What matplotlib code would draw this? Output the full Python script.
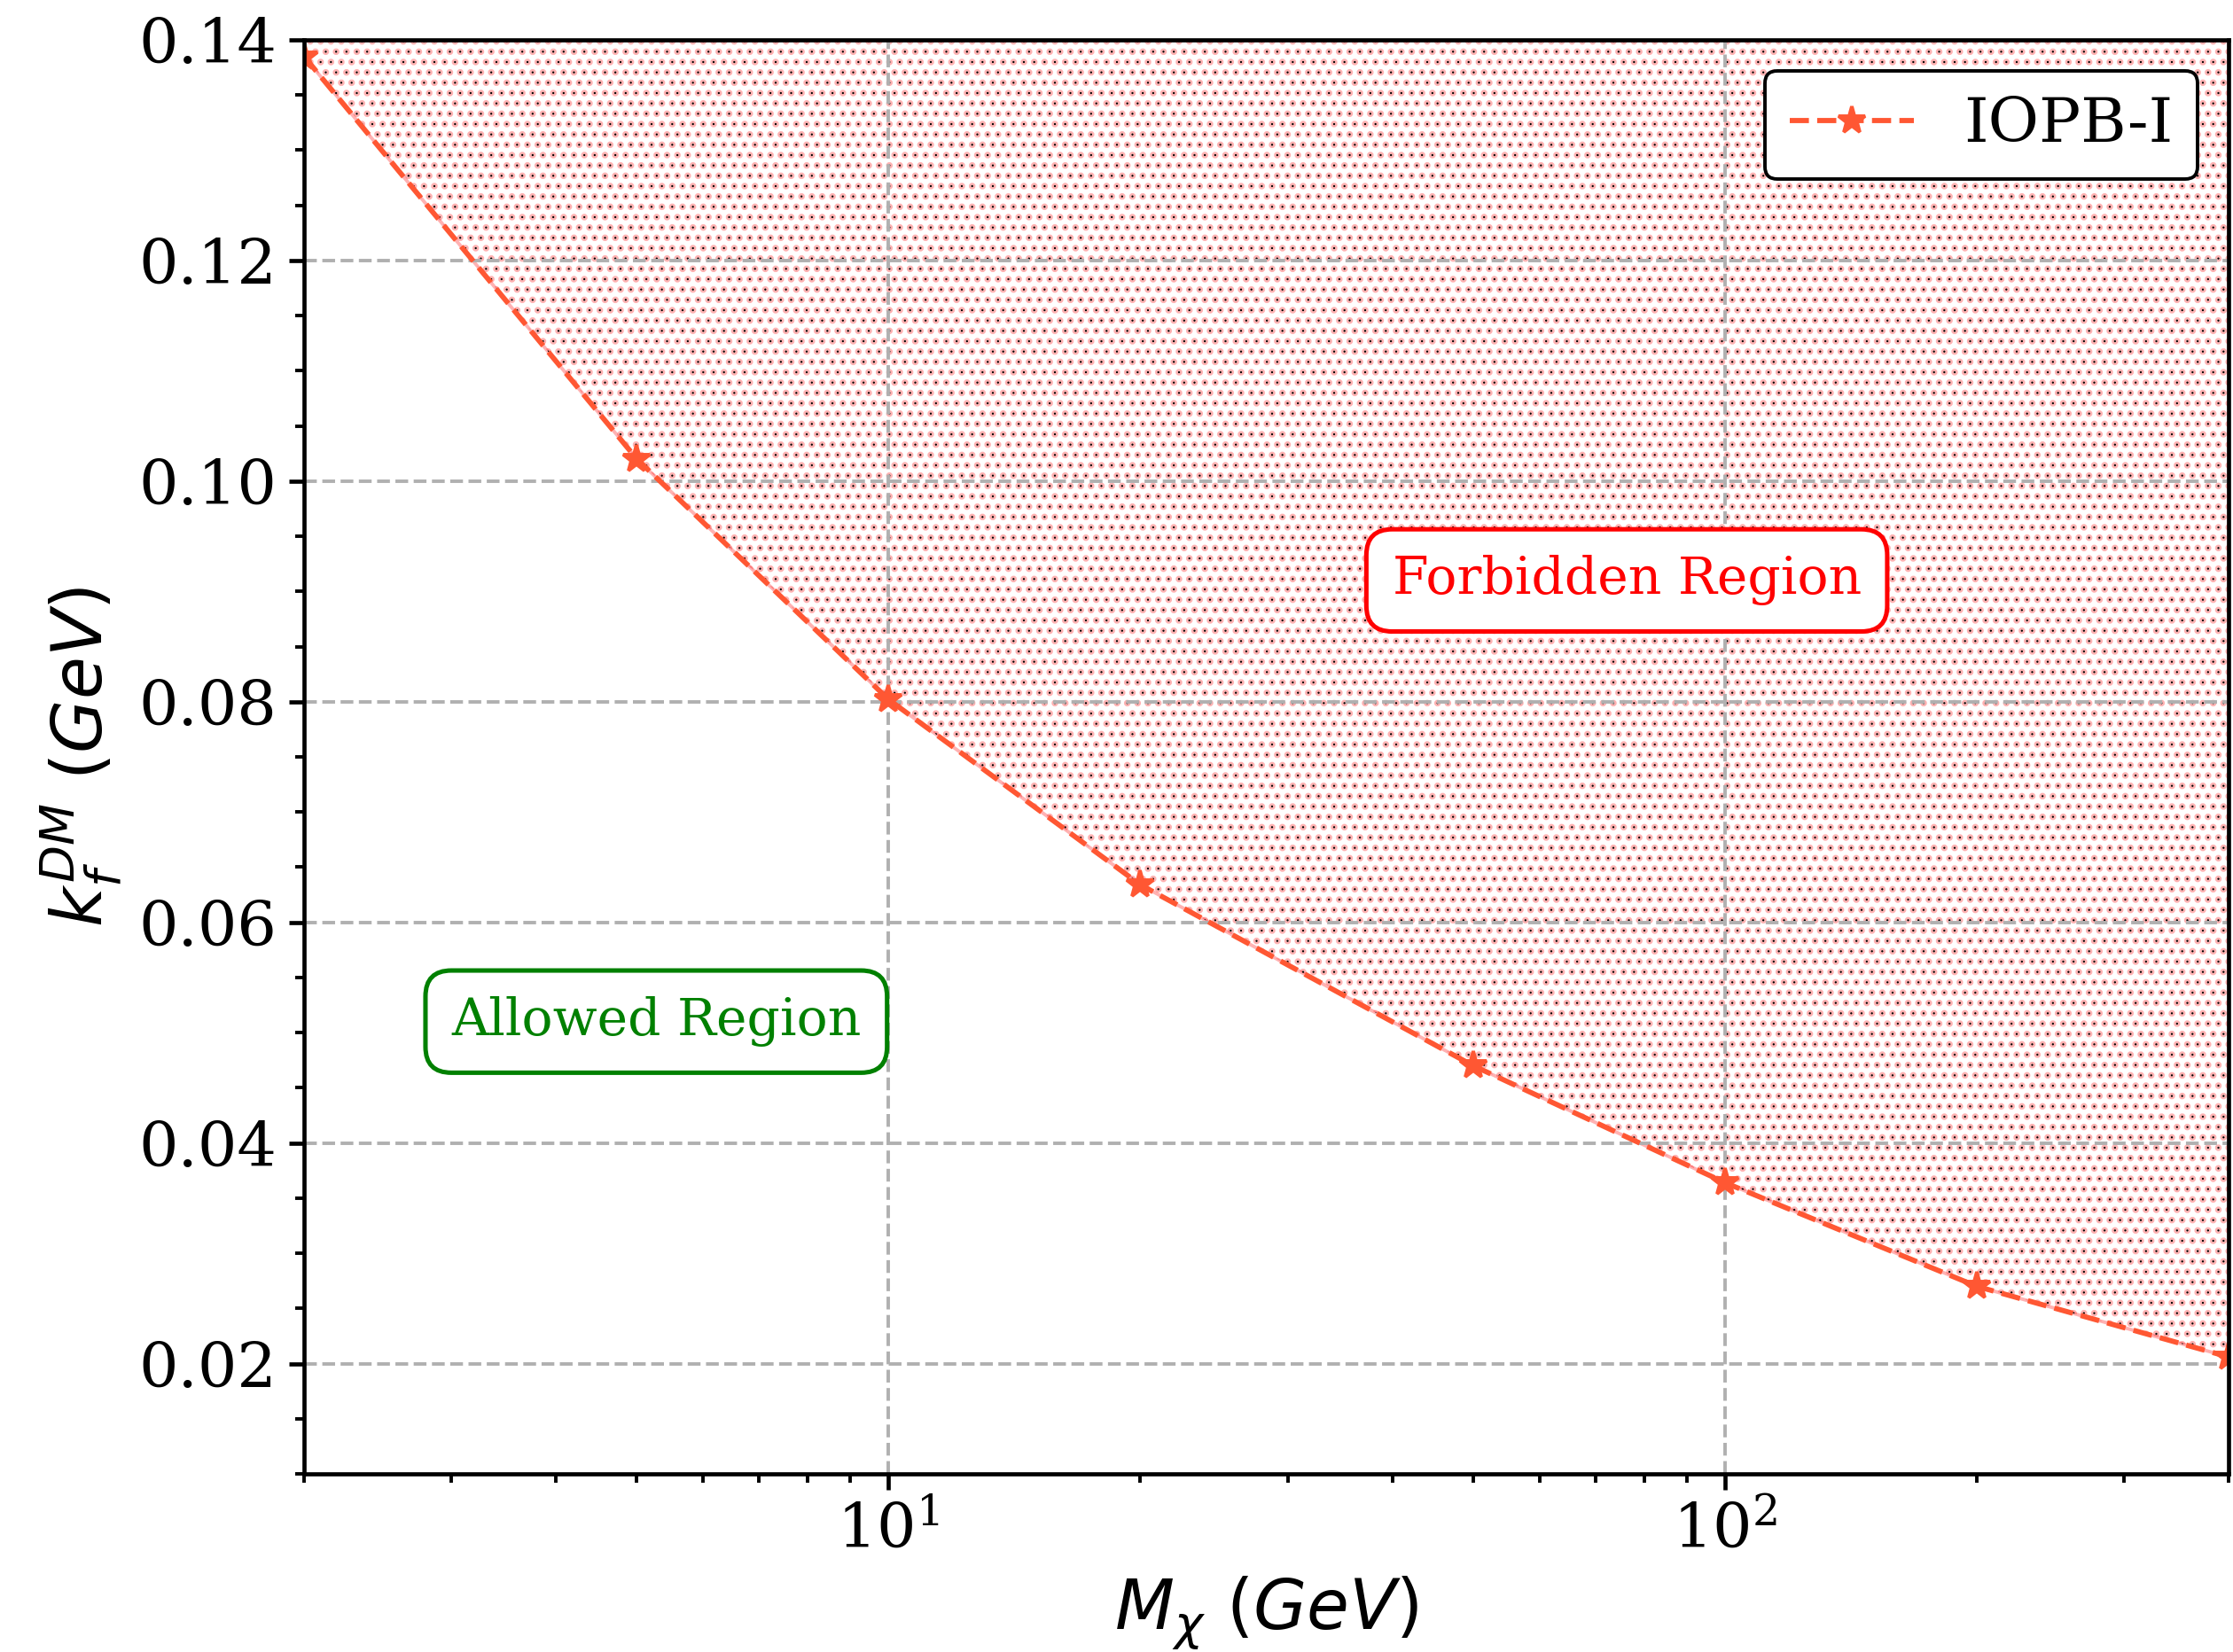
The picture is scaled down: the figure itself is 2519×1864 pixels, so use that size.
import matplotlib
matplotlib.use("Agg")
import matplotlib.pyplot as plt
from matplotlib.ticker import MultipleLocator

# ---- data ----
mass = [2, 5, 10, 20, 50, 100, 200, 400]
kf = [0.1385, 0.1020, 0.0802, 0.0634, 0.0470, 0.0364, 0.0270, 0.0206]
series_label = "IOPB-I"
y_ticks = [0.02, 0.04, 0.06, 0.08, 0.10, 0.12, 0.14]

plt.rcParams['font.family'] = 'serif'
plt.rcParams['font.serif'] = ['DejaVu Serif']
plt.rcParams['mathtext.fontset'] = 'dejavusans'

DPI = 280
fig = plt.figure(figsize=(2519 / DPI, 1864 / DPI), dpi=DPI)
ax = fig.add_axes([343 / 2519, 1 - 1663 / 1864, (2514 - 343) / 2519, (1663 - 45) / 1864])

ax.set_xscale('log')
ax.set_xlim(2, 400)
ax.set_ylim(0.01, 0.14)


def with_hatch_lw(artist, lw):
    if hasattr(artist, 'set_hatch_linewidth'):
        try:
            artist.set_hatch_linewidth(lw)
        except Exception:
            pass
    orig = artist.draw

    def draw(renderer, *args, **kwargs):
        with plt.rc_context({'hatch.linewidth': lw}):
            return orig(renderer, *args, **kwargs)
    artist.draw = draw
    return artist


# Forbidden region hatch: pink halo layer + black dot layer
with plt.rc_context({'hatch.linewidth': 1.3}):
    pink = ax.fill_between(mass, kf, 0.14, facecolor='none', edgecolor='red', alpha=0.3,
                           hatch='....', linewidth=1.0, zorder=1)
with_hatch_lw(pink, 1.3)
with plt.rc_context({'hatch.linewidth': 0.0}):
    dots = ax.fill_between(mass, kf, 0.14, facecolor='none', edgecolor='black',
                           hatch='....', linewidth=0, zorder=1.1)
with_hatch_lw(dots, 0.0)

ax.plot(mass, kf, linestyle='--', marker='*', color='#FF5733', markersize=8,
        linewidth=1.5, label=series_label, zorder=2)

ax.grid(True, which='major', linestyle='--', color='#b0b0b0', linewidth=1.0)

ax.set_yticks(y_ticks)
ax.yaxis.set_minor_locator(MultipleLocator(0.005))
ax.tick_params(axis='both', which='major', labelsize=18, length=4.5, width=1.2)
ax.tick_params(axis='both', which='minor', length=2.5, width=1.0)
for s in ax.spines.values():
    s.set_linewidth(1.2)

ax.set_xlabel(r'$M_\chi$ $(GeV)$', fontsize=20)
ax.set_ylabel(r'$k_f^{DM}$ $(GeV)$', fontsize=20)

ax.text(40, 0.091, 'Forbidden Region', color='red', fontsize=15, ha='left', va='center',
        bbox=dict(boxstyle='round,pad=0.5', facecolor='white', edgecolor='red', linewidth=1.3),
        zorder=4)
ax.text(3, 0.051, 'Allowed Region', color='green', fontsize=15, ha='left', va='center',
        bbox=dict(boxstyle='round,pad=0.5', facecolor='white', edgecolor='green', linewidth=1.3),
        zorder=4)

leg = ax.legend(loc='upper right', fontsize=18, framealpha=1, edgecolor='black')
leg.get_frame().set_linewidth(1.0)

fig.savefig('out.png', dpi=DPI)
